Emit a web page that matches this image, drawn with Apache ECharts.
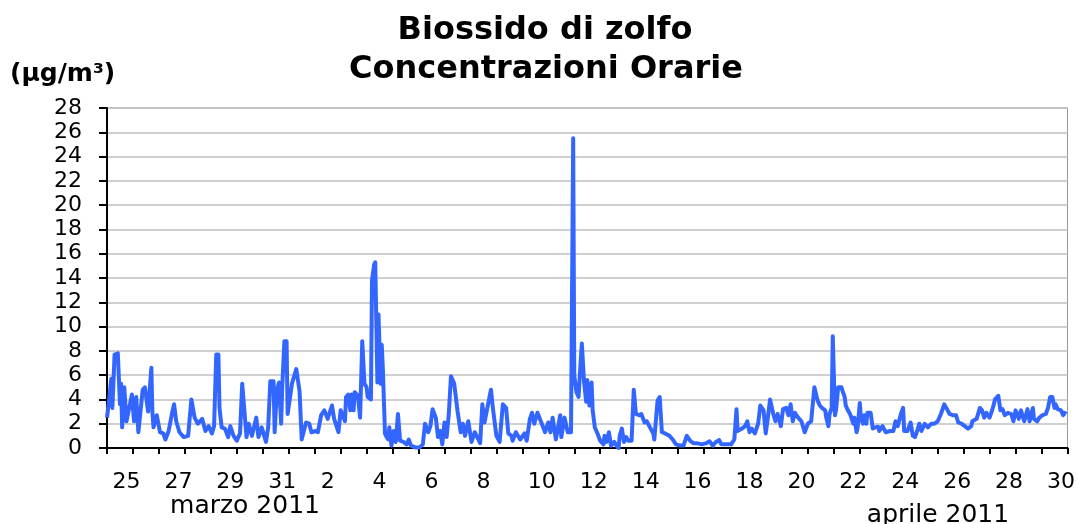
<!DOCTYPE html>
<html>
<head>
<meta charset="utf-8">
<script src="https://cdn.jsdelivr.net/npm/echarts@6/dist/echarts.min.js"></script>
<style>
  html, body { margin: 0; padding: 0; background: #fff; }
  #chart { width: 1078px; height: 524px; }
</style>
</head>
<body>
<div id="chart"></div>
<script>
// giorni sull'asse x (25 marzo - 30 aprile 2011)
var days = ['25', '26', '27', '28', '29', '30', '31',
  '1', '2', '3', '4', '5', '6', '7', '8', '9', '10', '11', '12', '13', '14', '15',
  '16', '17', '18', '19', '20', '21', '22', '23', '24', '25', '26', '27', '28', '29', '30'];
var totalHours = 888;

// ore dall'inizio del periodo
var hours = [
  0, 2, 4, 5, 7, 10, 12, 13, 14, 16, 18, 23, 25, 27, 29, 33, 35, 38, 41, 42, 43, 46, 49, 52, 54, 57, 60, 62, 64, 67,
  71, 75, 78, 81, 84, 88, 91, 94, 97, 99, 101, 103, 104, 106, 109, 112, 114, 117, 120, 123, 125, 129, 131, 134, 138,
  140, 143, 147, 149, 151, 154, 155, 157, 159, 161, 162, 164, 166, 167, 171, 175, 178, 180, 184, 187, 189, 193, 195,
  198, 201, 204, 208, 210, 214, 216, 220,
  221, 223, 225, 226, 228, 229, 232, 234, 236, 238, 240, 241, 244, 245, 247, 248, 250, 251, 253, 254, 255, 257, 258,
  260, 261, 263, 265, 267, 269, 271, 274, 277, 279, 281, 285, 289, 292, 294, 297, 299, 301, 304, 306, 308, 310, 312,
  314, 316, 318, 321, 324, 327, 329, 331, 334, 337, 340, 345, 347, 349, 355, 357, 360, 363, 366, 369, 371, 374, 375,
  378, 382, 386, 388, 391, 393, 395, 398, 402, 405, 408, 410, 412, 415, 419, 420, 423, 426, 429, 431, 432, 434, 436,
  437, 439, 441, 443, 444, 446, 448, 449, 451,
  453, 456, 459, 460, 462, 464, 466, 469, 471, 473, 474, 476, 478, 480, 482, 485, 487, 489, 492, 494, 497, 499, 502,
  505, 506, 509, 511, 513, 516, 520, 523, 526, 530, 533, 536, 539, 542, 545, 550, 554, 557, 560, 563, 566, 568, 571,
  574, 577, 580, 582, 583, 587, 590, 592, 594, 596, 599, 602, 604, 607, 609, 611, 613, 616, 618, 620, 623, 625, 628,
  630, 632, 634, 636, 639, 642, 645, 648, 651, 654, 657, 659, 661,
  664, 665, 667, 668, 670, 671, 673, 674, 676, 679, 680, 682, 683, 685, 687, 688, 690, 691, 693, 694, 696, 697, 699,
  700, 702, 703, 706, 708, 710, 713, 714, 717, 720, 724, 727, 729, 731, 734, 736, 737, 740, 743, 745, 747, 749, 751,
  753, 756, 759, 762, 765, 768, 771, 774, 776, 779, 782, 785, 787, 790, 793, 796, 799, 800, 804, 807, 809, 811, 813,
  816, 819, 821, 824, 826, 828, 830, 833, 836, 838, 840, 843, 845, 848, 851, 853, 856, 857, 860, 862, 865, 868, 870,
  872, 874, 876, 877, 879, 882, 884, 885, 887
];

// concentrazioni orarie SO2 (µg/m3)
var so2 = [
  2.5, 4.0, 5.7, 3.3, 7.7, 7.8, 3.6, 5.3, 1.7, 5.0, 2.2, 4.4, 2.2, 4.2, 1.3, 4.8, 5.0, 3.0, 6.6, 2.9, 1.7, 2.7, 1.3, 1.2, 0.7, 1.4, 2.8, 3.6, 2.2, 1.3,
  0.9, 1.0, 4.0, 2.5, 2.0, 2.4, 1.4, 1.8, 1.2, 1.8, 7.7, 7.7, 3.3, 1.7, 1.6, 0.9, 1.8, 1.0, 0.6, 1.2, 5.3, 0.9, 2.0, 1.0, 2.5,
  0.9, 1.7, 0.5, 1.7, 5.5, 5.5, 1.3, 4.7, 5.4, 2.0, 5.0, 8.8, 8.8, 2.8, 5.3, 6.5, 4.7, 0.7, 2.1, 2.0, 1.3, 1.4, 1.3,
  2.7, 3.1, 2.4, 3.5, 2.4, 1.3, 3.1, 2.2,
  4.2, 4.4, 3.1, 4.4, 3.1, 4.6, 4.3, 2.5, 8.8, 5.3, 5.0, 4.2, 4.0, 13.8, 15.1, 15.3, 5.4, 11.0, 5.3, 8.5, 6.6, 1.2, 1.0,
  0.7, 1.7, 0.2, 1.4, 0.5, 2.8, 0.6, 0.5, 0.3, 0.7, 0.2, 0.05, 0.05, 0.3, 2.0, 1.3, 1.8, 3.2, 2.5, 0.9, 1.4, 0.3, 2.1,
  0.9, 2.8, 5.9, 5.3, 3.1, 1.3, 2.0, 1.0, 2.2, 0.5, 1.3, 0.4, 3.6, 2.1, 4.8, 3.1, 1.0, 0.5, 3.6, 3.3, 1.2, 1.0, 0.6,
  1.3, 0.7, 1.2, 0.6, 2.4, 2.9, 2.0, 2.9, 2.0, 1.3, 2.1, 1.3, 2.5, 0.7, 2.7, 0.9, 2.5, 1.3, 1.3, 25.5, 6.0, 4.6, 4.2,
  5.8, 8.6, 5.5, 3.8, 5.6, 3.5, 5.4, 3.1, 1.7,
  1.3, 0.6, 0.3, 1.0, 0.5, 1.3, 0.2, 0.5, 0.2, 0.0, 1.0, 1.6, 0.5, 0.9, 0.6, 0.6, 4.8, 2.8, 2.7, 2.8, 2.1, 2.2, 1.7,
  1.2, 0.7, 3.9, 4.2, 1.3, 1.2, 1.0, 0.7, 0.3, 0.2, 0.2, 1.0, 0.6, 0.4, 0.4, 0.3, 0.4, 0.55, 0.2, 0.5, 0.65, 0.3, 0.3,
  0.3, 0.3, 0.7, 3.2, 1.4, 1.6, 1.8, 2.2, 1.3, 1.6, 1.2, 2.0, 3.5, 3.1, 1.2, 2.5, 4.0, 2.8, 2.2, 2.8, 1.8, 3.2, 3.3,
  2.7, 3.6, 2.2, 2.9, 2.5, 2.2, 1.3, 2.0, 2.2, 5.0, 3.9, 3.5, 3.3,
  3.1, 2.5, 1.8, 2.8, 3.3, 9.2, 2.7, 3.1, 5.0, 5.0, 4.7, 4.2, 3.5, 3.1, 2.8, 2.7, 2.0, 2.5, 1.3, 1.7, 3.7, 2.5, 2.0,
  2.7, 2.0, 2.9, 2.9, 1.6, 1.7, 1.75, 1.4, 1.8, 1.3, 1.4, 1.4, 2.2, 1.8, 2.8, 3.3, 1.4, 1.4, 2.1, 1.0, 0.9, 1.4, 2.0,
  1.4, 2.0, 1.7, 2.0, 2.0, 2.2, 2.8, 3.6, 3.3, 2.8, 2.7, 2.7, 2.1, 2.0, 1.8, 1.6, 1.8, 2.2, 2.4, 3.3, 3.1, 2.5, 2.9,
  2.5, 3.3, 4.0, 4.3, 3.1, 3.2, 2.7, 2.9, 2.8, 2.2, 3.1, 2.4, 3.1, 2.2, 3.2, 2.2, 3.3, 2.4, 2.2, 2.5, 2.7, 2.8, 3.3,
  4.2, 4.2, 3.3, 3.6, 3.2, 3.1, 2.7, 2.9, 2.8
];

var font = 'DejaVu Sans, Verdana, sans-serif';
var lineData = [];
for (var i = 0; i < hours.length; i++) {
  lineData.push([hours[i], so2[i]]);
}

var chart = echarts.init(document.getElementById('chart'));
var option = {
  animation: false,
  backgroundColor: '#fff',
  title: [
    { text: 'Biossido di zolfo', left: 545, top: 31, textAlign: 'center', textVerticalAlign: 'middle', padding: 0,
      textStyle: { fontFamily: font, fontSize: 32, fontWeight: 'bold', color: '#000' } },
    { text: 'Concentrazioni Orarie', left: 546, top: 70, textAlign: 'center', textVerticalAlign: 'middle', padding: 0,
      textStyle: { fontFamily: font, fontSize: 32, fontWeight: 'bold', color: '#000' } },
    { text: '(μg/m³)', left: 10, top: 74, textAlign: 'left', textVerticalAlign: 'middle', padding: 0,
      textStyle: { fontFamily: font, fontSize: 25, fontWeight: 'bold', color: '#000' } },
    { text: 'marzo 2011', left: 245, top: 506, textAlign: 'center', textVerticalAlign: 'middle', padding: 0,
      textStyle: { fontFamily: font, fontSize: 25, fontWeight: 'normal', color: '#000' } },
    { text: 'aprile 2011', left: 938, top: 515, textAlign: 'center', textVerticalAlign: 'middle', padding: 0,
      textStyle: { fontFamily: font, fontSize: 25, fontWeight: 'normal', color: '#000' } }
  ],
  grid: {
    left: 107, top: 108, width: 961, height: 340,
    show: true, borderColor: '#999', borderWidth: 1
  },
  xAxis: [{
    type: 'category',
    data: days,
    boundaryGap: true,
    axisLine: { lineStyle: { color: '#000', width: 2 } },
    axisTick: { show: true, interval: 0, length: 6, lineStyle: { color: '#000', width: 2 } },
    axisLabel: {
      interval: 1, margin: 23, color: '#000', fontSize: 22, fontFamily: font,
      // etichette allineate a sinistra come nell'originale
      formatter: function (v) {
        return v.length === 2 ? '{w|' + v + '}' : '{n|' + v + '}';
      },
      rich: {
        w: { padding: [0, 0, 0, 13], color: '#000', fontSize: 22, fontFamily: font },
        n: { color: '#000', fontSize: 22, fontFamily: font }
      }
    },
    splitLine: { show: false }
  }, {
    type: 'value',
    min: 0,
    max: totalHours,
    show: false
  }],
  yAxis: {
    type: 'value',
    min: 0,
    max: 28,
    interval: 2,
    axisLine: { show: true, lineStyle: { color: '#000', width: 2 } },
    axisTick: { show: true, length: 8, lineStyle: { color: '#000', width: 2 } },
    axisLabel: { margin: 25, color: '#000', fontSize: 22, fontFamily: font },
    splitLine: { show: true, lineStyle: { color: '#c0c0c0', width: 1.5 } }
  },
  series: [{
    type: 'line',
    xAxisIndex: 1,
    data: lineData,
    showSymbol: false,
    symbol: 'none',
    lineStyle: { color: '#3366ff', width: 4, join: 'round' },
    z: 3
  }]
};
chart.setOption(option);
</script>
</body>
</html>
